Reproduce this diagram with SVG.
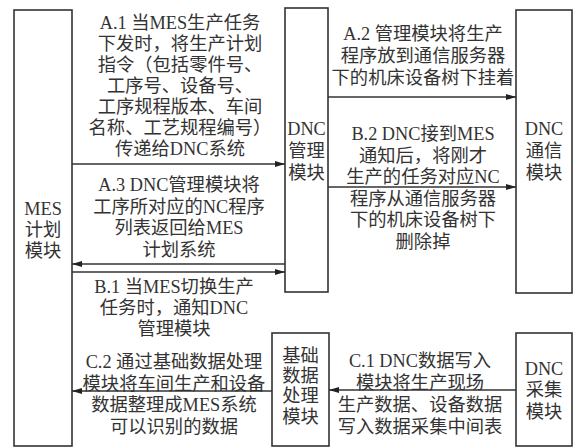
<svg xmlns="http://www.w3.org/2000/svg" width="574" height="447" viewBox="0 0 574 447">
<style>
.box{fill:#fff;stroke:#333;stroke-width:1.6}
.t{font-family:"Liberation Serif","Noto Sans CJK SC",serif;font-size:18.3px;fill:#333;text-anchor:middle;dominant-baseline:central}
.ln{stroke:#333;stroke-width:1.4;fill:none;marker-end:url(#ah)}
</style>
<defs>
<marker id="ah" viewBox="0 0 10 6" refX="10" refY="3" markerWidth="10" markerHeight="6" markerUnits="userSpaceOnUse" orient="auto">
<path d="M0,0 L10,3 L0,6 Z" fill="#222"/>
</marker>
</defs>
<rect width="574" height="447" fill="#fff"/>
<g id="mes"><rect class="box" x="14" y="10" width="58" height="436"/>
<text class="t"><tspan x="43" y="209">MES</tspan><tspan x="43" y="230">计划</tspan><tspan x="43" y="251">模块</tspan></text></g>
<g id="dncmgr"><rect class="box" x="285" y="8" width="43" height="284"/>
<text class="t"><tspan x="306.5" y="129">DNC</tspan><tspan x="306.5" y="151">管理</tspan><tspan x="306.5" y="173">模块</tspan></text></g>
<g id="dnccomm"><rect class="box" x="516" y="10" width="56" height="283"/>
<text class="t"><tspan x="544" y="129">DNC</tspan><tspan x="544" y="151">通信</tspan><tspan x="544" y="173">模块</tspan></text></g>
<g id="basic"><rect class="box" x="272" y="333" width="57" height="113"/>
<text class="t"><tspan x="300.5" y="356">基础</tspan><tspan x="300.5" y="376">数据</tspan><tspan x="300.5" y="396">处理</tspan><tspan x="300.5" y="417">模块</tspan></text></g>
<g id="dnccollect"><rect class="box" x="516" y="333" width="56" height="113"/>
<text class="t"><tspan x="544" y="369">DNC</tspan><tspan x="544" y="390">采集</tspan><tspan x="544" y="412">模块</tspan></text></g>
<g id="connectors">
<line class="ln" x1="72" y1="164" x2="285" y2="164"/>
<line class="ln" x1="328" y1="97" x2="516" y2="97"/>
<line class="ln" x1="328" y1="187" x2="516" y2="187"/>
<line class="ln" x1="285" y1="264" x2="72" y2="264"/>
<line class="ln" x1="72" y1="272" x2="285" y2="272"/>
<line class="ln" x1="516" y1="390" x2="329" y2="390"/>
<line class="ln" x1="272" y1="391" x2="72" y2="391"/>
</g>
<g id="labels">
<text class="t"><tspan x="180" y="23">A.1 当MES生产任务</tspan><tspan x="180" y="44">下发时，将生产计划</tspan><tspan x="180" y="65">指令（包括零件号、</tspan><tspan x="180" y="86">工序号、设备号、</tspan><tspan x="180" y="107">工序规程版本、车间</tspan><tspan x="180" y="128">名称、工艺规程编号）</tspan><tspan x="180" y="149">传递给DNC系统</tspan></text>
<text class="t"><tspan x="179" y="185">A.3 DNC管理模块将</tspan><tspan x="179" y="207">工序所对应的NC程序</tspan><tspan x="179" y="228">列表返回给MES</tspan><tspan x="179" y="250">计划系统</tspan></text>
<text class="t"><tspan x="174" y="287">B.1 当MES切换生产</tspan><tspan x="174" y="308">任务时，通知DNC</tspan><tspan x="174" y="329">管理模块</tspan></text>
<text class="t"><tspan x="174" y="362">C.2 通过基础数据处理</tspan><tspan x="174" y="384">模块将车间生产和设备</tspan><tspan x="174" y="405">数据整理成MES系统</tspan><tspan x="174" y="427">可以识别的数据</tspan></text>
<text class="t"><tspan x="423" y="34">A.2 管理模块将生产</tspan><tspan x="423" y="56">程序放到通信服务器</tspan><tspan x="423" y="78">下的机床设备树下挂着</tspan></text>
<text class="t"><tspan x="423" y="134">B.2 DNC接到MES</tspan><tspan x="423" y="156">通知后，将刚才</tspan><tspan x="423" y="177">生产的任务对应NC</tspan><tspan x="423" y="199">程序从通信服务器</tspan><tspan x="423" y="220">下的机床设备树下</tspan><tspan x="423" y="242">删除掉</tspan></text>
<text class="t"><tspan x="420" y="361">C.1 DNC数据写入</tspan><tspan x="420" y="383">模块将生产现场</tspan><tspan x="420" y="405">生产数据、设备数据</tspan><tspan x="420" y="427">写入数据采集中间表</tspan></text>
</g>
</svg>
